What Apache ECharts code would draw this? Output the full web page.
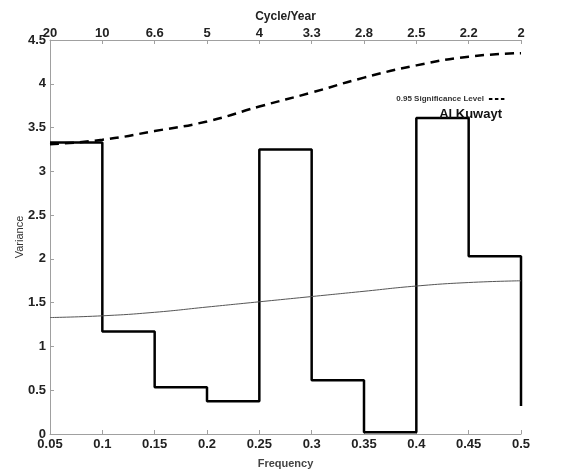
<!DOCTYPE html>
<html>
<head>
<meta charset="utf-8">
<script src="https://cdn.jsdelivr.net/npm/echarts@6/dist/echarts.min.js"></script>
<style>
  html, body { margin: 0; padding: 0; background: #fff; }
  #main { width: 564px; height: 472px; }
</style>
</head>
<body>
<div id="main"></div>
<script>
    'use strict';

    // frequency bins (left edge) and the variance in each bin
    var binStart = [0.05, 0.1, 0.15, 0.2, 0.25, 0.3, 0.35, 0.4, 0.45];
    var binVariance = [3.33, 1.17, 0.535, 0.375, 3.25, 0.615, 0.02, 3.61, 2.03];
    var lastEdge = 0.5;
    var endVariance = 0.32;

    // red-noise spectrum and 0.95 significance level
    var freq = [0.05, 0.1, 0.15, 0.2, 0.25, 0.3, 0.35, 0.4, 0.45, 0.5];
    var significance = [3.31, 3.36, 3.46, 3.57, 3.74, 3.90, 4.07, 4.21, 4.31, 4.35];
    var background = [1.33, 1.35, 1.39, 1.45, 1.51, 1.57, 1.63, 1.69, 1.73, 1.75];

    // top axis labels (period)
    var cycleLabels = ['20', '10', '6.6', '5', '4', '3.3', '2.8', '2.5', '2.2', '2'];

    var stepData = binStart.map(function (f, i) { return [f, binVariance[i]]; });
    stepData.push([lastEdge, binVariance[binVariance.length - 1]]);
    stepData.push([lastEdge, endVariance]);

    var font = 'Liberation Sans, Arial, sans-serif';
    var axisGray = '#a0a0a0';

    var option = {
        animation: false,
        backgroundColor: '#fff',
        textStyle: { fontFamily: font },
        grid: { left: 50, right: 43, top: 40, bottom: 38, outerBoundsMode: 'none' },
        title: {
            text: 'Al Kuwayt',
            right: 57,
            top: 103,
            textStyle: { fontSize: 13, fontWeight: 'bold', color: '#111', fontFamily: font }
        },
        legend: {
            data: ['0.95 Significance Level'],
            right: 52,
            top: 90,
            align: 'right',
            itemWidth: 17,
            itemHeight: 8,
            itemGap: 5,
            itemStyle: { color: 'transparent', borderWidth: 0 },
            lineStyle: { width: 2.2, type: [3.5, 2.5], color: '#000' },
            textStyle: { fontSize: 8, fontWeight: 'bold', color: '#333', fontFamily: font }
        },
        xAxis: [{
            type: 'value',
            min: 0.05,
            max: 0.5,
            interval: 0.05,
            position: 'bottom',
            name: 'Frequency',
            nameLocation: 'middle',
            nameGap: 24,
            nameTextStyle: { fontSize: 11, fontWeight: 'bold', color: '#444' },
            splitLine: { show: false },
            axisLine: { lineStyle: { color: axisGray } },
            axisTick: { inside: true, length: 4, lineStyle: { color: axisGray } },
            axisLabel: {
                fontSize: 13, fontWeight: 'bold', color: '#222', margin: 4,
                formatter: function (v) { return String(+v.toFixed(2)); }
            }
        }, {
            type: 'value',
            min: 0.05,
            max: 0.5,
            interval: 0.05,
            position: 'top',
            name: 'Cycle/Year',
            nameLocation: 'middle',
            nameGap: 17,
            nameMoveOverlap: false,
            nameTextStyle: { fontSize: 12, fontWeight: 'bold', color: '#222' },
            splitLine: { show: false },
            axisLine: { lineStyle: { color: axisGray } },
            axisTick: { inside: true, length: 4, lineStyle: { color: axisGray } },
            axisLabel: {
                fontSize: 13, fontWeight: 'bold', color: '#222', margin: 0,
                formatter: function (v) {
                    return cycleLabels[Math.round((v - 0.05) / 0.05)];
                }
            }
        }],
        yAxis: {
            type: 'value',
            min: 0,
            max: 4.5,
            interval: 0.5,
            name: 'Variance',
            nameLocation: 'middle',
            nameGap: 25,
            nameMoveOverlap: false,
            nameTextStyle: { fontSize: 11, color: '#333' },
            splitLine: { show: false },
            axisLine: { show: true, lineStyle: { color: axisGray } },
            axisTick: { show: true, inside: true, length: 4, lineStyle: { color: axisGray } },
            axisLabel: { fontSize: 13, fontWeight: 'bold', color: '#222', margin: 4 }
        },
        series: [{
            name: 'Al Kuwayt',
            type: 'line',
            step: 'end',
            symbol: 'none',
            data: stepData,
            lineStyle: { color: '#000', width: 2.5 }
        }, {
            name: '0.95 Significance Level',
            type: 'line',
            smooth: true,
            symbol: 'none',
            data: freq.map(function (f, i) { return [f, significance[i]]; }),
            lineStyle: { color: '#000', width: 2.5, type: [9, 6] },
            itemStyle: { color: '#000' }
        }, {
            name: 'Background',
            type: 'line',
            smooth: true,
            symbol: 'none',
            data: freq.map(function (f, i) { return [f, background[i]]; }),
            lineStyle: { color: '#555', width: 1 }
        }]
    };

    var chart = echarts.init(document.getElementById('main'), null, { renderer: 'canvas' });
    chart.setOption(option);
</script>
</body>
</html>
